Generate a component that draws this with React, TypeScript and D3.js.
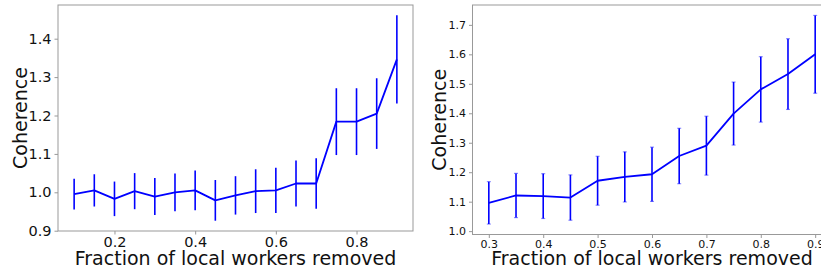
import React, { useEffect, useRef } from 'react';
import * as d3 from 'd3';

// left panel: fraction removed 0.1 .. 0.9
const leftX = [0.1, 0.15, 0.2, 0.25, 0.3, 0.35, 0.4, 0.45, 0.5, 0.55, 0.6, 0.65, 0.7, 0.75, 0.8, 0.85, 0.9];
const leftMean = [0.995, 1.005, 0.983, 1.003, 0.989, 1.0, 1.005, 0.979, 0.992, 1.003, 1.005, 1.023, 1.023, 1.184, 1.184, 1.205, 1.346];
const leftErr = [0.04, 0.042, 0.045, 0.047, 0.048, 0.049, 0.052, 0.053, 0.05, 0.057, 0.059, 0.06, 0.066, 0.087, 0.087, 0.092, 0.115];
const leftXTicks = [0.2, 0.4, 0.6, 0.8];
const leftYTicks = [0.9, 1.0, 1.1, 1.2, 1.3, 1.4];

// right panel: fraction removed 0.3 .. 0.9
const rightX = [0.3, 0.35, 0.4, 0.45, 0.5, 0.55, 0.6, 0.65, 0.7, 0.75, 0.8, 0.85, 0.9];
const rightMean = [1.096, 1.121, 1.119, 1.114, 1.171, 1.184, 1.193, 1.255, 1.29, 1.399, 1.481, 1.533, 1.6];
const rightErr = [0.072, 0.075, 0.076, 0.077, 0.083, 0.085, 0.092, 0.094, 0.1, 0.107, 0.111, 0.12, 0.132];
const rightXTicks = [0.3, 0.4, 0.5, 0.6, 0.7, 0.8, 0.9];
const rightYTicks = [1.0, 1.1, 1.2, 1.3, 1.4, 1.5, 1.6, 1.7];

const FONT = 'DejaVu Sans, sans-serif';

type Panel = {
  xs: number[];
  mean: number[];
  err: number[];
  xTicks: number[];
  yTicks: number[];
  box: { left: number; right: number; top: number; bottom: number };
  tickSize: number;
  caps: boolean;
  yLabelX: number;
};

function drawPanel(svg: d3.Selection<SVGSVGElement, unknown, null, undefined>, p: Panel) {
  const xMin = d3.min(p.xs)!, xMax = d3.max(p.xs)!;
  const xPad = (xMax - xMin) * 0.05;
  const lo = d3.min(p.mean.map((m, i) => m - p.err[i]))!;
  const hi = d3.max(p.mean.map((m, i) => m + p.err[i]))!;
  const yPad = (hi - lo) * 0.05;

  const x = d3.scaleLinear().domain([xMin - xPad, xMax + xPad]).range([p.box.left, p.box.right]);
  const y = d3.scaleLinear().domain([lo - yPad, hi + yPad]).range([p.box.bottom, p.box.top]);

  const g = svg.append('g');

  // data
  const blue = '#0000ff';
  p.xs.forEach((xv, i) => {
    g.append('line')
      .attr('x1', x(xv)).attr('x2', x(xv))
      .attr('y1', y(p.mean[i] - p.err[i])).attr('y2', y(p.mean[i] + p.err[i]))
      .attr('stroke', blue).attr('stroke-width', 1.6);
    if (p.caps) {
      [p.mean[i] - p.err[i], p.mean[i] + p.err[i]].forEach(v => {
        g.append('line')
          .attr('x1', x(xv) - 2).attr('x2', x(xv) + 2)
          .attr('y1', y(v)).attr('y2', y(v))
          .attr('stroke', blue).attr('stroke-opacity', 0.45).attr('stroke-width', 1.2);
      });
    }
  });
  const line = d3.line<number>().x((_, i) => x(p.xs[i])).y(d => y(d));
  g.append('path')
    .attr('d', line(p.mean))
    .attr('fill', 'none').attr('stroke', blue).attr('stroke-width', 1.8)
    .attr('stroke-linejoin', 'round');

  // frame
  g.append('rect')
    .attr('x', p.box.left).attr('y', p.box.top)
    .attr('width', x.range()[1] - p.box.left).attr('height', p.box.bottom - p.box.top)
    .attr('fill', 'none').attr('stroke', '#999').attr('stroke-width', 1);

  const xAxis = g.append('g')
    .attr('transform', `translate(0,${p.box.bottom})`)
    .call(d3.axisBottom(x).tickValues(p.xTicks).tickFormat(d3.format('.1f')).tickSize(3.5).tickPadding(2.5));
  const yAxis = g.append('g')
    .attr('transform', `translate(${p.box.left},0)`)
    .call(d3.axisLeft(y).tickValues(p.yTicks).tickFormat(d3.format('.1f')).tickSize(3.5).tickPadding(3));
  [xAxis, yAxis].forEach(a => {
    a.select('.domain').remove();
    a.selectAll('line').attr('stroke', '#999');
    a.selectAll('text').attr('fill', '#111').attr('font-family', FONT).attr('font-size', p.tickSize);
  });

  g.append('text')
    .attr('x', (p.box.left + p.box.right) / 2).attr('y', 265)
    .attr('text-anchor', 'middle')
    .attr('font-family', FONT).attr('font-size', 19).attr('fill', '#111')
    .text('Fraction of local workers removed');
  g.append('text')
    .attr('transform', `translate(${p.yLabelX},${(p.box.top + p.box.bottom) / 2}) rotate(-90)`)
    .attr('text-anchor', 'middle').attr('dy', '0.35em')
    .attr('font-family', FONT).attr('font-size', 19).attr('fill', '#111')
    .text('Coherence');
}

export default function App() {
  const ref = useRef<SVGSVGElement>(null);

  useEffect(() => {
    const svg = d3.select(ref.current!);
    svg.selectAll('*').remove();
    svg.append('rect').attr('width', 821).attr('height', 274).attr('fill', '#fff');

    drawPanel(svg, {
      xs: leftX, mean: leftMean, err: leftErr,
      xTicks: leftXTicks, yTicks: leftYTicks,
      box: { left: 58, right: 413, top: 5, bottom: 231 },
      tickSize: 14.5, caps: false, yLabelX: 20,
    });
    drawPanel(svg, {
      xs: rightX, mean: rightMean, err: rightErr,
      xTicks: rightXTicks, yTicks: rightYTicks,
      box: { left: 472.5, right: 831.5, top: 5, bottom: 234.5 },
      tickSize: 11, caps: true, yLabelX: 439,
    });
  }, []);

  return (
    <svg ref={ref} width={821} height={274}
      style={{ position: 'absolute', left: 0, top: 0, display: 'block' }} />
  );
}
